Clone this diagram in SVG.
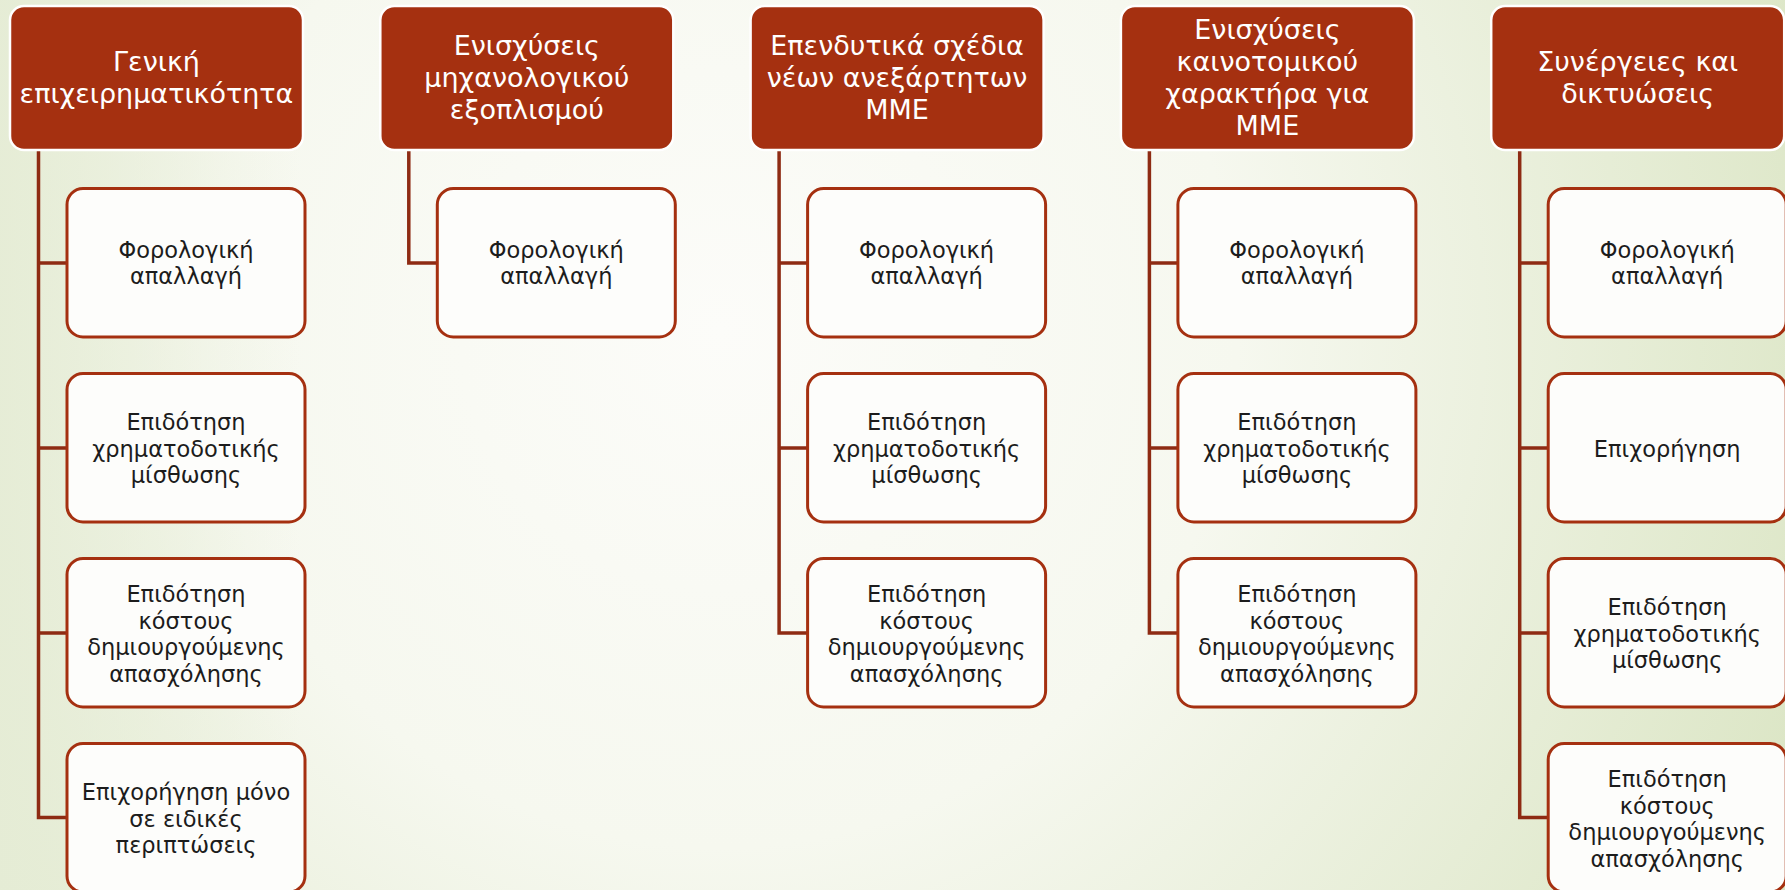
<svg xmlns="http://www.w3.org/2000/svg" width="1785" height="890" viewBox="0 0 1785 890">
<defs>
<radialGradient id="bg" cx="720" cy="330" r="1150" gradientUnits="userSpaceOnUse">
<stop offset="0" stop-color="#fcfcf9"/>
<stop offset="0.45" stop-color="#f6f8ef"/>
<stop offset="1" stop-color="#dce6c6"/>
</radialGradient>
<linearGradient id="lft" x1="0" y1="0" x2="300" y2="0" gradientUnits="userSpaceOnUse">
<stop offset="0" stop-color="#e5ecd5" stop-opacity="0.9"/>
<stop offset="1" stop-color="#e5ecd5" stop-opacity="0"/>
</linearGradient>
<style>
.hdr{fill:#a53010;stroke:#ffffff;stroke-width:2.5}
.ch{fill:#fdfdfb;stroke:#a53010;stroke-width:3}
.ht{fill:#ffffff;font-family:"DejaVu Sans",sans-serif;font-size:27px;text-anchor:middle}
.ct{fill:#1c1c1c;font-family:"DejaVu Sans",sans-serif;font-size:22.5px;text-anchor:middle}
.con{fill:none;stroke:#8e2b13;stroke-width:3.5;stroke-linejoin:miter}
</style>
</defs>
<rect width="1785" height="890" fill="url(#bg)"/>
<rect width="300" height="890" fill="url(#lft)"/>

<g id="connectors">
<path class="con" d="M38.5 150 V817.5 H67 M38.5 263 H67 M38.5 448 H67 M38.5 633 H67"/>
<path class="con" transform="translate(370.3 0)" d="M38.5 150 V263 H67"/>
<path class="con" transform="translate(740.6 0)" d="M38.5 150 V633 H67 M38.5 263 H67 M38.5 448 H67"/>
<path class="con" transform="translate(1110.9 0)" d="M38.5 150 V633 H67 M38.5 263 H67 M38.5 448 H67"/>
<path class="con" transform="translate(1481.2 0)" d="M38.5 150 V817.5 H67 M38.5 263 H67 M38.5 448 H67 M38.5 633 H67"/>
</g>

<!-- Column 1 -->
<g id="h1">
<rect class="hdr" x="10" y="6" width="293" height="144" rx="14"/>
<text class="ht"><tspan x="156.5" y="71">Γενική</tspan><tspan x="156.5" y="103">επιχειρηματικότητα</tspan></text>
</g>
<g id="c1a">
<rect class="ch" x="67" y="188.5" width="238" height="148.5" rx="16"/>
<text class="ct"><tspan x="186" y="258">Φορολογική</tspan><tspan x="186" y="284">απαλλαγή</tspan></text>
</g>
<g id="c1b">
<rect class="ch" x="67" y="373.5" width="238" height="148.5" rx="16"/>
<text class="ct"><tspan x="186" y="430">Επιδότηση</tspan><tspan x="186" y="456.5">χρηματοδοτικής</tspan><tspan x="186" y="483">μίσθωσης</tspan></text>
</g>
<g id="c1c">
<rect class="ch" x="67" y="558.5" width="238" height="148.5" rx="16"/>
<text class="ct"><tspan x="186" y="602">Επιδότηση</tspan><tspan x="186" y="628.5">κόστους</tspan><tspan x="186" y="655">δημιουργούμενης</tspan><tspan x="186" y="681.5">απασχόλησης</tspan></text>
</g>
<g id="c1d">
<rect class="ch" x="67" y="743.5" width="238" height="148.5" rx="16"/>
<text class="ct"><tspan x="186" y="800">Επιχορήγηση μόνο</tspan><tspan x="186" y="826.5">σε ειδικές</tspan><tspan x="186" y="853">περιπτώσεις</tspan></text>
</g>

<!-- Column 2 -->
<g id="h2" transform="translate(370.3 0)">
<rect class="hdr" x="10" y="6" width="293" height="144" rx="14"/>
<text class="ht"><tspan x="156.5" y="55">Ενισχύσεις</tspan><tspan x="156.5" y="87">μηχανολογικού</tspan><tspan x="156.5" y="119">εξοπλισμού</tspan></text>
</g>
<g id="c2a" transform="translate(370.3 0)">
<rect class="ch" x="67" y="188.5" width="238" height="148.5" rx="16"/>
<text class="ct"><tspan x="186" y="258">Φορολογική</tspan><tspan x="186" y="284">απαλλαγή</tspan></text>
</g>

<!-- Column 3 -->
<g id="h3" transform="translate(740.6 0)">
<rect class="hdr" x="10" y="6" width="293" height="144" rx="14"/>
<text class="ht"><tspan x="156.5" y="55">Επενδυτικά σχέδια</tspan><tspan x="156.5" y="87">νέων ανεξάρτητων</tspan><tspan x="156.5" y="119">ΜΜΕ</tspan></text>
</g>
<g id="c3a" transform="translate(740.6 0)">
<rect class="ch" x="67" y="188.5" width="238" height="148.5" rx="16"/>
<text class="ct"><tspan x="186" y="258">Φορολογική</tspan><tspan x="186" y="284">απαλλαγή</tspan></text>
</g>
<g id="c3b" transform="translate(740.6 0)">
<rect class="ch" x="67" y="373.5" width="238" height="148.5" rx="16"/>
<text class="ct"><tspan x="186" y="430">Επιδότηση</tspan><tspan x="186" y="456.5">χρηματοδοτικής</tspan><tspan x="186" y="483">μίσθωσης</tspan></text>
</g>
<g id="c3c" transform="translate(740.6 0)">
<rect class="ch" x="67" y="558.5" width="238" height="148.5" rx="16"/>
<text class="ct"><tspan x="186" y="602">Επιδότηση</tspan><tspan x="186" y="628.5">κόστους</tspan><tspan x="186" y="655">δημιουργούμενης</tspan><tspan x="186" y="681.5">απασχόλησης</tspan></text>
</g>

<!-- Column 4 -->
<g id="h4" transform="translate(1110.9 0)">
<rect class="hdr" x="10" y="6" width="293" height="144" rx="14"/>
<text class="ht"><tspan x="156.5" y="39">Ενισχύσεις</tspan><tspan x="156.5" y="71">καινοτομικού</tspan><tspan x="156.5" y="103">χαρακτήρα για</tspan><tspan x="156.5" y="135">ΜΜΕ</tspan></text>
</g>
<g id="c4a" transform="translate(1110.9 0)">
<rect class="ch" x="67" y="188.5" width="238" height="148.5" rx="16"/>
<text class="ct"><tspan x="186" y="258">Φορολογική</tspan><tspan x="186" y="284">απαλλαγή</tspan></text>
</g>
<g id="c4b" transform="translate(1110.9 0)">
<rect class="ch" x="67" y="373.5" width="238" height="148.5" rx="16"/>
<text class="ct"><tspan x="186" y="430">Επιδότηση</tspan><tspan x="186" y="456.5">χρηματοδοτικής</tspan><tspan x="186" y="483">μίσθωσης</tspan></text>
</g>
<g id="c4c" transform="translate(1110.9 0)">
<rect class="ch" x="67" y="558.5" width="238" height="148.5" rx="16"/>
<text class="ct"><tspan x="186" y="602">Επιδότηση</tspan><tspan x="186" y="628.5">κόστους</tspan><tspan x="186" y="655">δημιουργούμενης</tspan><tspan x="186" y="681.5">απασχόλησης</tspan></text>
</g>

<!-- Column 5 -->
<g id="h5" transform="translate(1481.2 0)">
<rect class="hdr" x="10" y="6" width="293" height="144" rx="14"/>
<text class="ht"><tspan x="156.5" y="71">Συνέργειες και</tspan><tspan x="156.5" y="103">δικτυώσεις</tspan></text>
</g>
<g id="c5a" transform="translate(1481.2 0)">
<rect class="ch" x="67" y="188.5" width="238" height="148.5" rx="16"/>
<text class="ct"><tspan x="186" y="258">Φορολογική</tspan><tspan x="186" y="284">απαλλαγή</tspan></text>
</g>
<g id="c5b" transform="translate(1481.2 0)">
<rect class="ch" x="67" y="373.5" width="238" height="148.5" rx="16"/>
<text class="ct"><tspan x="186" y="456.5">Επιχορήγηση</tspan></text>
</g>
<g id="c5c" transform="translate(1481.2 0)">
<rect class="ch" x="67" y="558.5" width="238" height="148.5" rx="16"/>
<text class="ct"><tspan x="186" y="615">Επιδότηση</tspan><tspan x="186" y="641.5">χρηματοδοτικής</tspan><tspan x="186" y="668">μίσθωσης</tspan></text>
</g>
<g id="c5d" transform="translate(1481.2 0)">
<rect class="ch" x="67" y="743.5" width="238" height="148.5" rx="16"/>
<text class="ct"><tspan x="186" y="787">Επιδότηση</tspan><tspan x="186" y="813.5">κόστους</tspan><tspan x="186" y="840">δημιουργούμενης</tspan><tspan x="186" y="866.5">απασχόλησης</tspan></text>
</g>
</svg>
